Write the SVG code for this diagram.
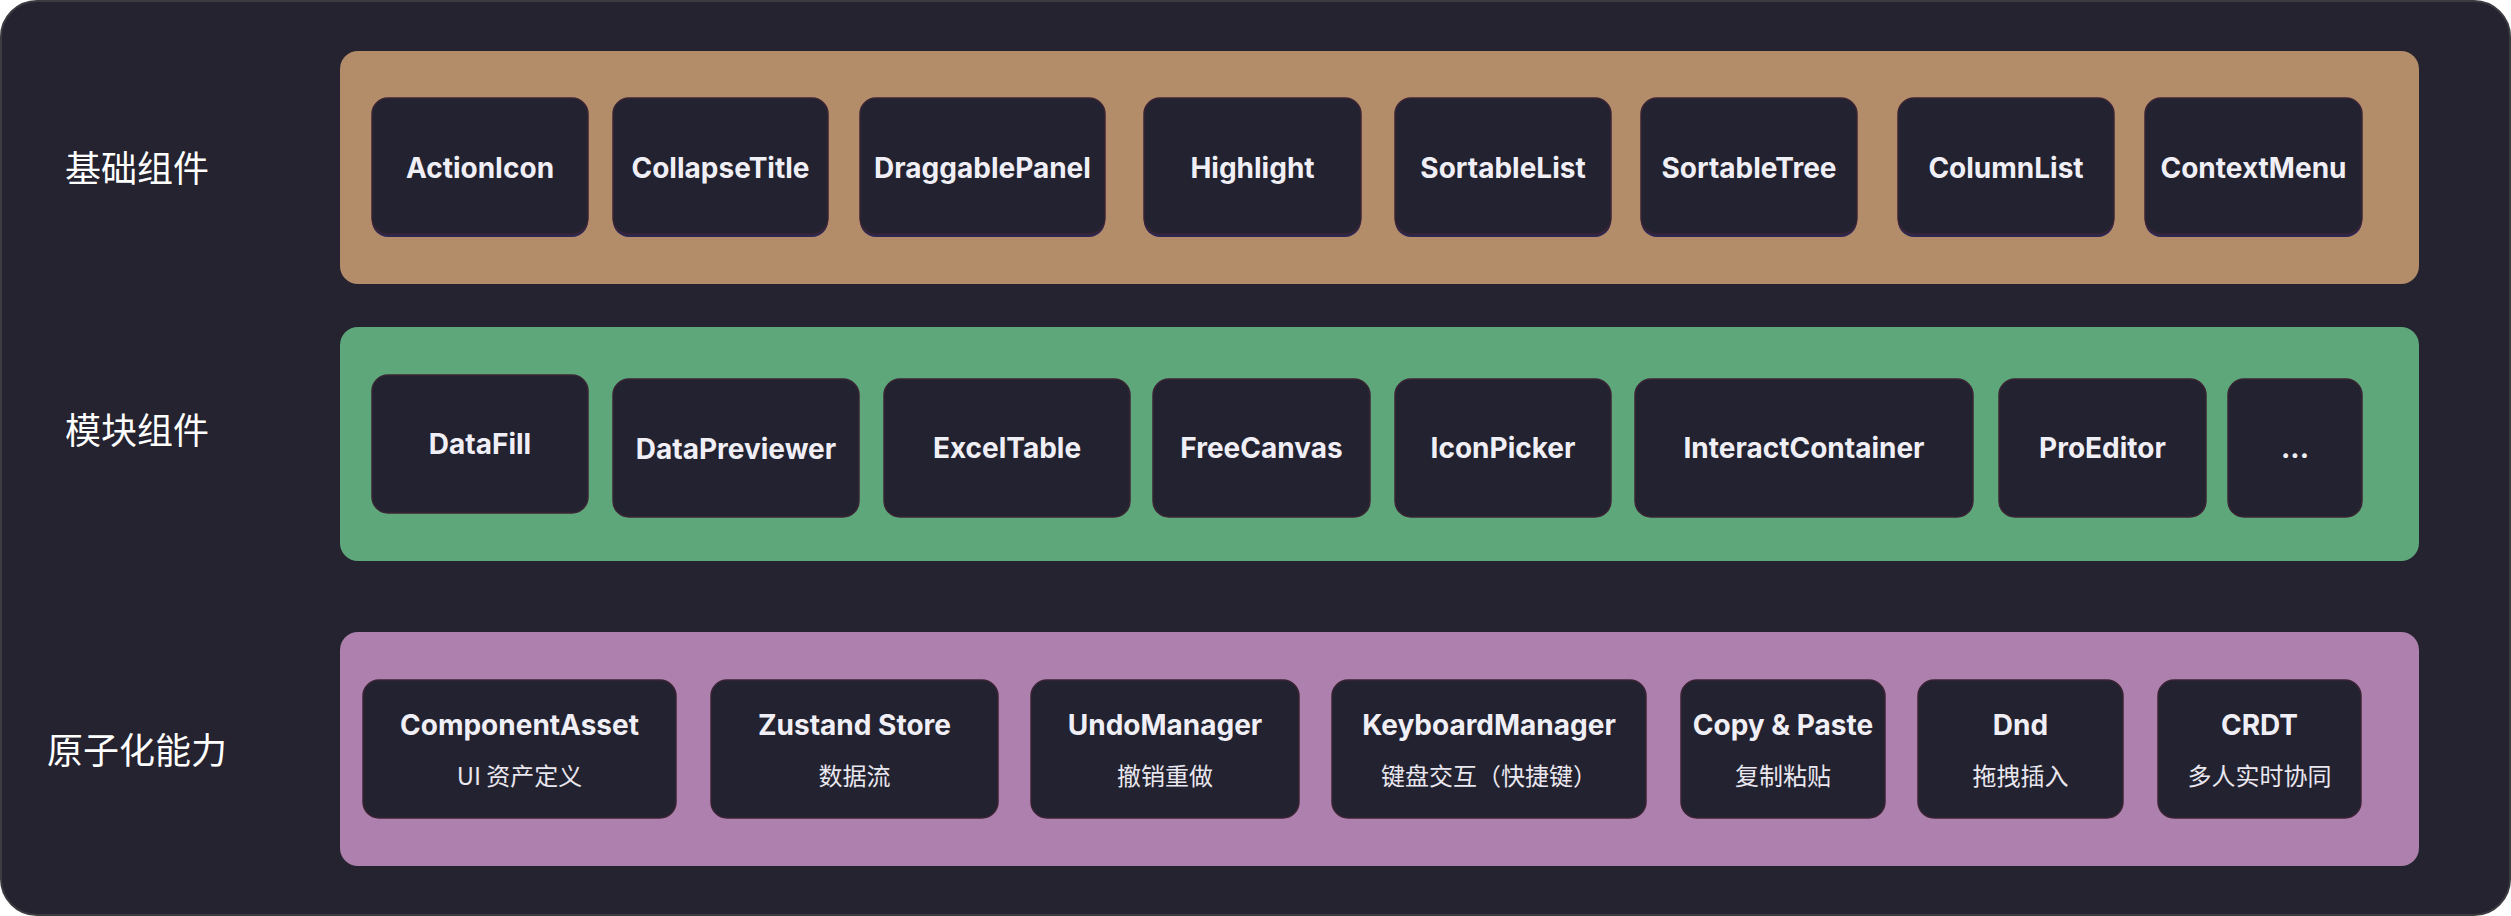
<svg xmlns="http://www.w3.org/2000/svg" width="2511" height="916" viewBox="0 0 2511 916">
<style>
.card{fill:#25232f;stroke:#3b3b41;stroke-width:2}
.lbl{font-family:"Noto Sans CJK SC","Noto Sans",sans-serif;font-size:36px;fill:#ffffff;text-anchor:middle;dominant-baseline:central}
.node rect.b{fill:#232230;stroke:#3a2434;stroke-width:1.5}
.node rect.s{fill:#2c2752}
.t{font-family:Inter,"Noto Sans","Noto Sans CJK SC",sans-serif;font-size:28px;font-weight:700;fill:#f1eff6;text-anchor:middle;dominant-baseline:central}
.st{font-family:"Noto Sans CJK SC","Noto Sans",sans-serif;font-size:24px;fill:#e9e7ef;text-anchor:middle;dominant-baseline:central}
</style>
<rect x="0" y="0" width="2511" height="916" fill="#ffffff"/>
<rect class="card" x="1" y="1" width="2509" height="914" rx="36"/>

<g id="layer-basic">
<rect x="340" y="51" width="2079" height="233" rx="18" fill="#b38c6a"/>
<text class="lbl" x="137" y="166">基础组件</text>
</g>
<g id="layer-module">
<rect x="340" y="327" width="2079" height="234" rx="18" fill="#5ea77b"/>
<text class="lbl" x="137" y="428">模块组件</text>
</g>
<g id="layer-atomic">
<rect x="340" y="632" width="2079" height="234" rx="18" fill="#ad80ad"/>
<text class="lbl" x="137" y="748">原子化能力</text>
</g>

<g id="connectors"></g>

<g id="n-ActionIcon" class="node"><rect class="s" x="372" y="101" width="216" height="136" rx="16"/><rect class="b" x="372" y="98" width="216" height="136" rx="16"/><text class="t" x="480" y="168">ActionIcon</text></g>
<g id="n-CollapseTitle" class="node"><rect class="s" x="613" y="101" width="215" height="136" rx="16"/><rect class="b" x="613" y="98" width="215" height="136" rx="16"/><text class="t" x="720.5" y="168">CollapseTitle</text></g>
<g id="n-DraggablePanel" class="node"><rect class="s" x="860" y="101" width="245" height="136" rx="16"/><rect class="b" x="860" y="98" width="245" height="136" rx="16"/><text class="t" x="982.5" y="168">DraggablePanel</text></g>
<g id="n-Highlight" class="node"><rect class="s" x="1144" y="101" width="217" height="136" rx="16"/><rect class="b" x="1144" y="98" width="217" height="136" rx="16"/><text class="t" x="1252.5" y="168">Highlight</text></g>
<g id="n-SortableList" class="node"><rect class="s" x="1395" y="101" width="216" height="136" rx="16"/><rect class="b" x="1395" y="98" width="216" height="136" rx="16"/><text class="t" x="1503" y="168">SortableList</text></g>
<g id="n-SortableTree" class="node"><rect class="s" x="1641" y="101" width="216" height="136" rx="16"/><rect class="b" x="1641" y="98" width="216" height="136" rx="16"/><text class="t" x="1749" y="168">SortableTree</text></g>
<g id="n-ColumnList" class="node"><rect class="s" x="1898" y="101" width="216" height="136" rx="16"/><rect class="b" x="1898" y="98" width="216" height="136" rx="16"/><text class="t" x="2006" y="168">ColumnList</text></g>
<g id="n-ContextMenu" class="node"><rect class="s" x="2145" y="101" width="217" height="136" rx="16"/><rect class="b" x="2145" y="98" width="217" height="136" rx="16"/><text class="t" x="2253.5" y="168">ContextMenu</text></g>

<g id="n-DataFill" class="node"><rect class="b" x="372" y="375" width="216" height="138" rx="16"/><text class="t" x="480" y="444">DataFill</text></g>
<g id="n-DataPreviewer" class="node"><rect class="b" x="613" y="379" width="246" height="138" rx="16"/><text class="t" x="736" y="449">DataPreviewer</text></g>
<g id="n-ExcelTable" class="node"><rect class="b" x="884" y="379" width="246" height="138" rx="16"/><text class="t" x="1007" y="448">ExcelTable</text></g>
<g id="n-FreeCanvas" class="node"><rect class="b" x="1153" y="379" width="217" height="138" rx="16"/><text class="t" x="1261.5" y="448">FreeCanvas</text></g>
<g id="n-IconPicker" class="node"><rect class="b" x="1395" y="379" width="216" height="138" rx="16"/><text class="t" x="1503" y="448">IconPicker</text></g>
<g id="n-InteractContainer" class="node"><rect class="b" x="1635" y="379" width="338" height="138" rx="16"/><text class="t" x="1804" y="448">InteractContainer</text></g>
<g id="n-ProEditor" class="node"><rect class="b" x="1999" y="379" width="207" height="138" rx="16"/><text class="t" x="2102.5" y="448">ProEditor</text></g>
<g id="n-More" class="node"><rect class="b" x="2228" y="379" width="134" height="138" rx="16"/><text class="t" x="2295" y="448">...</text></g>

<g id="n-ComponentAsset" class="node"><rect class="b" x="363" y="680" width="313" height="138" rx="16"/><text class="t" x="519.5" y="725">ComponentAsset</text><text class="st" x="519.5" y="774">UI 资产定义</text></g>
<g id="n-ZustandStore" class="node"><rect class="b" x="711" y="680" width="287" height="138" rx="16"/><text class="t" x="854.5" y="725">Zustand Store</text><text class="st" x="854.5" y="774">数据流</text></g>
<g id="n-UndoManager" class="node"><rect class="b" x="1031" y="680" width="268" height="138" rx="16"/><text class="t" x="1165" y="725">UndoManager</text><text class="st" x="1165" y="774">撤销重做</text></g>
<g id="n-KeyboardManager" class="node"><rect class="b" x="1332" y="680" width="314" height="138" rx="16"/><text class="t" x="1489" y="725">KeyboardManager</text><text class="st" x="1489" y="774">键盘交互（快捷键）</text></g>
<g id="n-CopyPaste" class="node"><rect class="b" x="1681" y="680" width="204" height="138" rx="16"/><text class="t" x="1783" y="725">Copy &amp; Paste</text><text class="st" x="1783" y="774">复制粘贴</text></g>
<g id="n-Dnd" class="node"><rect class="b" x="1918" y="680" width="205" height="138" rx="16"/><text class="t" x="2020.5" y="725">Dnd</text><text class="st" x="2020.5" y="774">拖拽插入</text></g>
<g id="n-CRDT" class="node"><rect class="b" x="2158" y="680" width="203" height="138" rx="16"/><text class="t" x="2259.5" y="725">CRDT</text><text class="st" x="2259.5" y="774">多人实时协同</text></g>
</svg>
